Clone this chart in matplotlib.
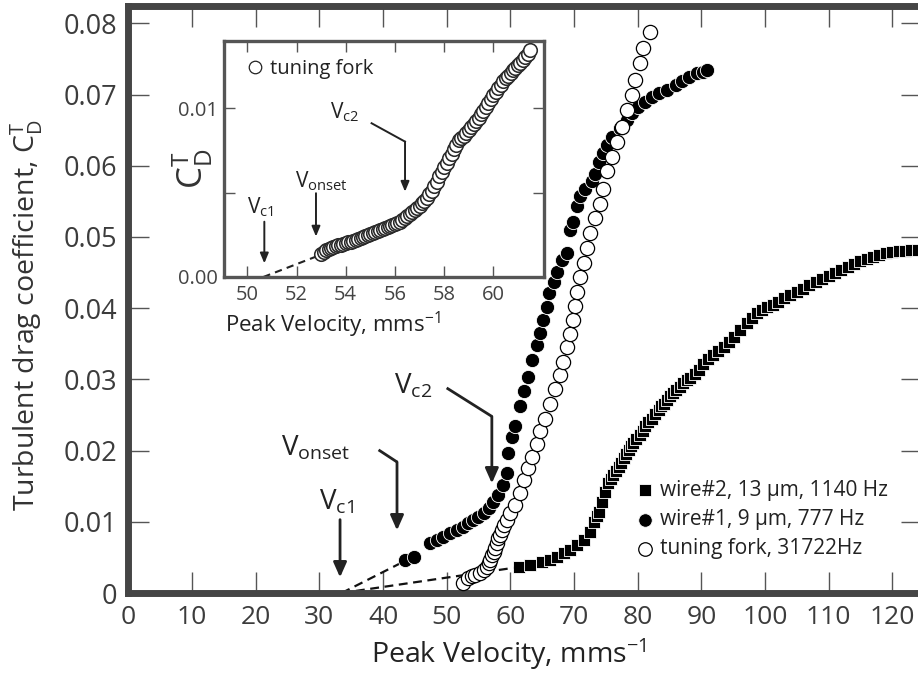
import matplotlib
matplotlib.use('Agg')
import matplotlib.pyplot as plt
from matplotlib.lines import Line2D

plt.rcParams['font.family'] = ['Open Sans', 'DejaVu Sans']
plt.rcParams['mathtext.default'] = 'regular'

# ---- main panel data ----
fork_v = [52.6, 53.4, 54.0, 54.5, 55.3, 55.8, 56.3, 56.6, 56.8, 57.1, 57.4, 57.6,
          57.9, 58.1, 58.4, 58.7, 59.0, 59.5, 60.0, 60.8, 61.5, 62.1, 62.8, 63.4,
          64.2, 64.7, 65.5, 66.2, 67.0, 67.8, 68.3, 68.9, 69.4, 69.8, 70.1, 70.5,
          71.0, 71.5, 72.0, 72.5, 73.3, 74.1, 74.6, 75.2, 76.0, 76.7, 77.5, 78.3,
          79.1, 79.6, 80.3, 80.9, 82.0]
fork_cd = [0.0014, 0.0021, 0.0024, 0.0025, 0.0028, 0.0032, 0.0037, 0.0042, 0.0046,
           0.0053, 0.0058, 0.0063, 0.0070, 0.0077, 0.0082, 0.0089, 0.0096, 0.0103,
           0.0112, 0.0124, 0.0140, 0.0159, 0.0175, 0.0191, 0.0209, 0.0227, 0.0245,
           0.0266, 0.0287, 0.0306, 0.0325, 0.0346, 0.0364, 0.0384, 0.0403, 0.0423,
           0.0444, 0.0463, 0.0484, 0.0505, 0.0526, 0.0547, 0.0568, 0.0592, 0.0613,
           0.0634, 0.0655, 0.0678, 0.0699, 0.0721, 0.0744, 0.0766, 0.0788]

wire1_v = [43.5, 44.8, 47.4, 48.5, 49.5, 50.5, 51.6, 52.6, 53.4, 54.2, 55.0, 55.8,
           56.6, 57.3, 58.1, 58.9, 59.5, 59.7, 60.2, 60.8, 61.5, 62.1, 62.8, 63.4,
           64.2, 64.7, 65.2, 65.7, 66.0, 66.8, 67.3, 68.1, 68.9, 69.4, 69.9, 70.5,
           71.0, 71.8, 72.8, 73.3, 73.9, 74.6, 75.2, 76.0, 77.3, 78.3, 79.1, 80.1,
           81.2, 82.2, 83.3, 84.6, 86.0, 87.0, 88.0, 89.3, 90.3, 90.9]
wire1_cd = [0.0046, 0.0051, 0.0070, 0.0074, 0.0079, 0.0084, 0.0088, 0.0093, 0.0098,
            0.0103, 0.0107, 0.0112, 0.0119, 0.0128, 0.0138, 0.0152, 0.0168, 0.0196,
            0.0219, 0.0234, 0.0262, 0.0283, 0.0304, 0.0327, 0.0348, 0.0365, 0.0383,
            0.0402, 0.0421, 0.0437, 0.0451, 0.0468, 0.0477, 0.0510, 0.0521, 0.0543,
            0.0557, 0.0568, 0.0578, 0.0589, 0.0606, 0.0618, 0.0629, 0.0641, 0.0653,
            0.0664, 0.0674, 0.0683, 0.0690, 0.0697, 0.0702, 0.0706, 0.0713, 0.0719,
            0.0724, 0.0730, 0.0732, 0.0734]

wire2_v = [61.3, 63.1, 65.0, 66.3, 67.3, 68.4, 69.4, 70.5, 71.5, 72.5, 73.1, 73.6,
           73.9, 74.4, 74.9, 75.4, 75.8, 76.2, 76.6, 77.0, 77.4, 77.8, 78.2, 78.6,
           79.0, 79.3, 79.8, 80.4, 80.8, 81.2, 81.7, 82.2, 82.7, 83.3, 83.7, 84.1,
           84.6, 85.1, 85.6, 86.0, 86.6, 87.2, 87.8, 88.3, 89.0, 89.6, 90.3, 91.1,
           91.9, 92.7, 93.5, 94.3, 95.1, 96.1, 97.2, 98.0, 98.7, 99.5, 100.3, 101.2,
           102.0, 103.0, 104.0, 105.0, 106.0, 107.0, 108.0, 109.0, 110.0, 111.0,
           112.0, 113.0, 114.0, 115.0, 116.0, 117.0, 118.0, 119.0, 120.0, 121.0,
           122.0, 123.0, 124.0]
wire2_cd = [0.0037, 0.0039, 0.0044, 0.0046, 0.0051, 0.0056, 0.0060, 0.0067, 0.0074,
            0.0086, 0.0100, 0.0108, 0.0114, 0.0128, 0.0142, 0.0154, 0.0160, 0.0166,
            0.0172, 0.0177, 0.0183, 0.0189, 0.0195, 0.0201, 0.0206, 0.0210, 0.0216,
            0.0222, 0.0228, 0.0234, 0.0240, 0.0245, 0.0251, 0.0257, 0.0262, 0.0266,
            0.0271, 0.0276, 0.0281, 0.0285, 0.0290, 0.0295, 0.0299, 0.0302, 0.0308,
            0.0313, 0.0321, 0.0328, 0.0334, 0.0340, 0.0346, 0.0353, 0.0360, 0.0369,
            0.0379, 0.0386, 0.0393, 0.0398, 0.0402, 0.0405, 0.0409, 0.0414, 0.0418,
            0.0423, 0.0427, 0.0432, 0.0437, 0.0441, 0.0445, 0.0450, 0.0454, 0.0458,
            0.0462, 0.0466, 0.0469, 0.0472, 0.0475, 0.0477, 0.0479, 0.0480, 0.0481,
            0.0482, 0.0482]

# extrapolation lines down to V_c1
fit1_v = [33.5, 43.0]
fit1_cd = [0.0, 0.0043]
fit2_v = [33.5, 61.0]
fit2_cd = [0.0, 0.0036]

# ---- inset data (tuning fork, zoomed) ----
ins_v = [53.0, 53.1, 53.2, 53.3, 53.4, 53.5, 53.6, 53.7, 53.8, 53.9, 54.0, 54.1,
         54.2, 54.3, 54.4, 54.5, 54.6, 54.7, 54.8, 54.9, 55.0, 55.1, 55.2, 55.3,
         55.4, 55.5, 55.6, 55.7, 55.8, 55.9, 56.0, 56.1, 56.2, 56.3, 56.4, 56.5,
         56.6, 56.7, 56.8, 56.9, 57.0, 57.1, 57.2, 57.3, 57.4, 57.5, 57.6, 57.7,
         57.8, 57.9, 58.0, 58.1, 58.2, 58.3, 58.4, 58.5, 58.6, 58.7, 58.8, 58.9,
         59.0, 59.1, 59.2, 59.3, 59.4, 59.5, 59.6, 59.7, 59.8, 59.9, 60.0, 60.1,
         60.2, 60.3, 60.4, 60.5, 60.6, 60.7, 60.8, 60.9, 61.0, 61.1, 61.2, 61.3,
         61.4, 61.5]
ins_cd = [0.00135, 0.00150, 0.00158, 0.00165, 0.00172, 0.00178, 0.00183, 0.00188,
          0.00192, 0.00196, 0.00200, 0.00205, 0.00210, 0.00215, 0.00220, 0.00226,
          0.00232, 0.00238, 0.00245, 0.00252, 0.00258, 0.00263, 0.00268, 0.00274,
          0.00280, 0.00285, 0.00291, 0.00297, 0.00303, 0.00309, 0.00314, 0.00320,
          0.00327, 0.00336, 0.00348, 0.00360, 0.00372, 0.00385, 0.00397, 0.00410,
          0.00423, 0.00437, 0.00452, 0.00470, 0.00490, 0.00512, 0.00538, 0.00565,
          0.00598, 0.00625, 0.00650, 0.00677, 0.00703, 0.00730, 0.00760, 0.00785,
          0.00810, 0.00823, 0.00835, 0.00853, 0.00872, 0.00888, 0.00905, 0.00925,
          0.00945, 0.00965, 0.00985, 0.01008, 0.01030, 0.01055, 0.01080, 0.01100,
          0.01120, 0.01140, 0.01160, 0.01178, 0.01195, 0.01210, 0.01225, 0.01240,
          0.01255, 0.01270, 0.01285, 0.01302, 0.01320, 0.01347]
ins_fit_v = [50.65, 52.95]
ins_fit_cd = [0.0, 0.0013]

xticks = [0, 10, 20, 30, 40, 50, 60, 70, 80, 90, 100, 110, 120]
yticks = [0, 0.01, 0.02, 0.03, 0.04, 0.05, 0.06, 0.07, 0.08]
ytick_labels = ['0', '0.01', '0.02', '0.03', '0.04', '0.05', '0.06', '0.07', '0.08']
ins_xticks = [50, 52, 54, 56, 58, 60]
ins_yticks = [0, 0.005, 0.01]
ins_ytick_labels = ['0.00', '', '0.01']

labels = ['wire#2, 13 \u03bcm, 1140 Hz', 'wire#1, 9 \u03bcm, 777 Hz',
          'tuning fork, 31722Hz']

# annotation arrows: (text, text pos, polyline ending at the arrow tip)
main_arrows = [
    (r'$V_{c1}$', (32.7, 0.0127), [(33.25, 0.0103), (33.25, 0.0022)]),
    (r'$V_{onset}$', (29.4, 0.0203), [(39.3, 0.0201), (42.2, 0.0184), (42.2, 0.0088)]),
    (r'$V_{c2}$', (44.7, 0.0290), [(50.0, 0.0288), (57.1, 0.0248), (57.1, 0.0154)]),
]
ins_arrows = [
    (r'$V_{c1}$', (50.55, 0.00415), [(50.69, 0.00328), (50.69, 0.00081)]),
    (r'$V_{onset}$', (52.99, 0.0057), [(52.79, 0.00497), (52.79, 0.0024)]),
    (r'$V_{c2}$', (53.97, 0.0098), [(55.05, 0.00912), (56.41, 0.00803), (56.41, 0.00506)]),
]

W, H = 918, 673
fig = plt.figure(figsize=(W / 100, H / 100), dpi=100)

ax = fig.add_axes([128.4 / W, 80 / H, (921.5 - 128.4) / W, 587 / H])
sq = ax.scatter(wire2_v, wire2_cd, s=78, marker='s', facecolor='black',
                edgecolor='white', linewidth=0.6, zorder=3)
fc = ax.scatter(wire1_v, wire1_cd, s=105, marker='o', facecolor='black',
                edgecolor='white', linewidth=0.6, zorder=4)
oc = ax.scatter(fork_v, fork_cd, s=105, marker='o', facecolor='white',
                edgecolor='black', linewidth=0.9, zorder=5)
ax.plot(fit1_v, fit1_cd, color='#111111', lw=1.6, ls=(0, (4, 2.5)), zorder=2)
ax.plot(fit2_v, fit2_cd, color='#111111', lw=1.6, ls=(0, (4, 2.5)), zorder=2)

ax.set_xlim(0, 124.6)
ax.set_ylim(0, 0.08244)
ax.set_xticks(xticks)
ax.set_yticks(yticks)
ax.set_yticklabels(ytick_labels)
ax.tick_params(direction='in', length=15, width=1.0, color='#555555',
               top=True, right=True, labelsize=19.5, labelcolor='#3c3c3c')
ax.tick_params(axis='x', pad=9, labelsize=19)
ax.tick_params(axis='y', pad=8)
for sp in ax.spines.values():
    sp.set_linewidth(5)
    sp.set_color('#454545')
ax.set_xlabel('Peak Velocity, mms$^{-1}$', fontsize=20.5, color='#222222')
ax.set_ylabel('Turbulent drag coefficient, $C_D^T$', fontsize=20.5, color='#333333')
ax.xaxis.set_label_coords(0.48, -0.074)
ax.yaxis.set_label_coords(-0.106, 0.474)

for txt, pos, path in main_arrows:
    ax.text(pos[0], pos[1], txt, fontsize=20, ha='center', va='center',
            color='#222222')
    xs = [p[0] for p in path]
    ys = [p[1] for p in path]
    ax.plot(xs[:-1], ys[:-1], color='#222222', lw=2, solid_capstyle='butt')
    ax.annotate('', xy=path[-1], xytext=path[-2],
                arrowprops=dict(arrowstyle='-|>,head_length=0.9,head_width=0.4',
                                color='#222222', lw=2, shrinkA=0, shrinkB=0))

ax.legend([sq, fc, oc], labels, loc='upper left', bbox_to_anchor=(0.643, 0.193),
          frameon=False, fontsize=15, markerscale=0.95, handlelength=0.6,
          handletextpad=0.45, labelspacing=0.4, borderpad=0, borderaxespad=0,
          labelcolor='#222222')

# ---- inset ----
ai = fig.add_axes([223.5 / W, (H - 277) / H, (544 - 223.5) / W, (277 - 41.3) / H])
io = ai.scatter(ins_v, ins_cd, s=95, marker='o', facecolor='white',
                edgecolor='#2a2a2a', linewidth=1.15, zorder=3)
ai.plot(ins_fit_v, ins_fit_cd, color='#222222', lw=1.5, ls=(0, (3.5, 2.5)), zorder=2)
ai.set_xlim(49.03, 62.06)
ai.set_ylim(0, 0.01398)
ai.set_xticks(ins_xticks)
ai.set_yticks(ins_yticks)
ai.set_yticklabels(ins_ytick_labels)
ai.tick_params(direction='in', length=8, width=1.0, color='#555555',
               top=True, right=True, labelsize=14.5, labelcolor='#444444')
ai.tick_params(axis='x', pad=6)
ai.tick_params(axis='y', pad=4)
for sp in ai.spines.values():
    sp.set_linewidth(2.4)
    sp.set_color('#555555')
ai.set_xlabel('Peak Velocity, mms$^{-1}$', fontsize=16, color='#222222')
ai.xaxis.set_label_coords(0.34, -0.14)
ai.set_ylabel('$C_D^T$', fontsize=25, color='#333333')
ai.yaxis.set_label_coords(-0.025, 0.46)

for txt, pos, path in ins_arrows:
    ai.text(pos[0], pos[1], txt, fontsize=15, ha='center', va='center',
            color='#222222')
    xs = [p[0] for p in path]
    ys = [p[1] for p in path]
    if len(path) > 2:
        ai.plot(xs[:-1], ys[:-1], color='#222222', lw=1.4)
    ai.annotate('', xy=path[-1], xytext=path[-2],
                arrowprops=dict(arrowstyle='-|>,head_length=0.6,head_width=0.25',
                                color='#222222', lw=1.4, shrinkA=0, shrinkB=0))

leg_h = Line2D([], [], ls='none', marker='o', markersize=9,
               markerfacecolor='white', markeredgecolor='#222222', markeredgewidth=0.9)
ai.legend([leg_h], ['tuning fork'], loc='upper left', bbox_to_anchor=(0.078, 0.925),
          frameon=False, fontsize=14.5, handlelength=0.6, handletextpad=0.45,
          borderpad=0, borderaxespad=0, labelcolor='#222222')

fig.savefig('out.png', dpi=100)
